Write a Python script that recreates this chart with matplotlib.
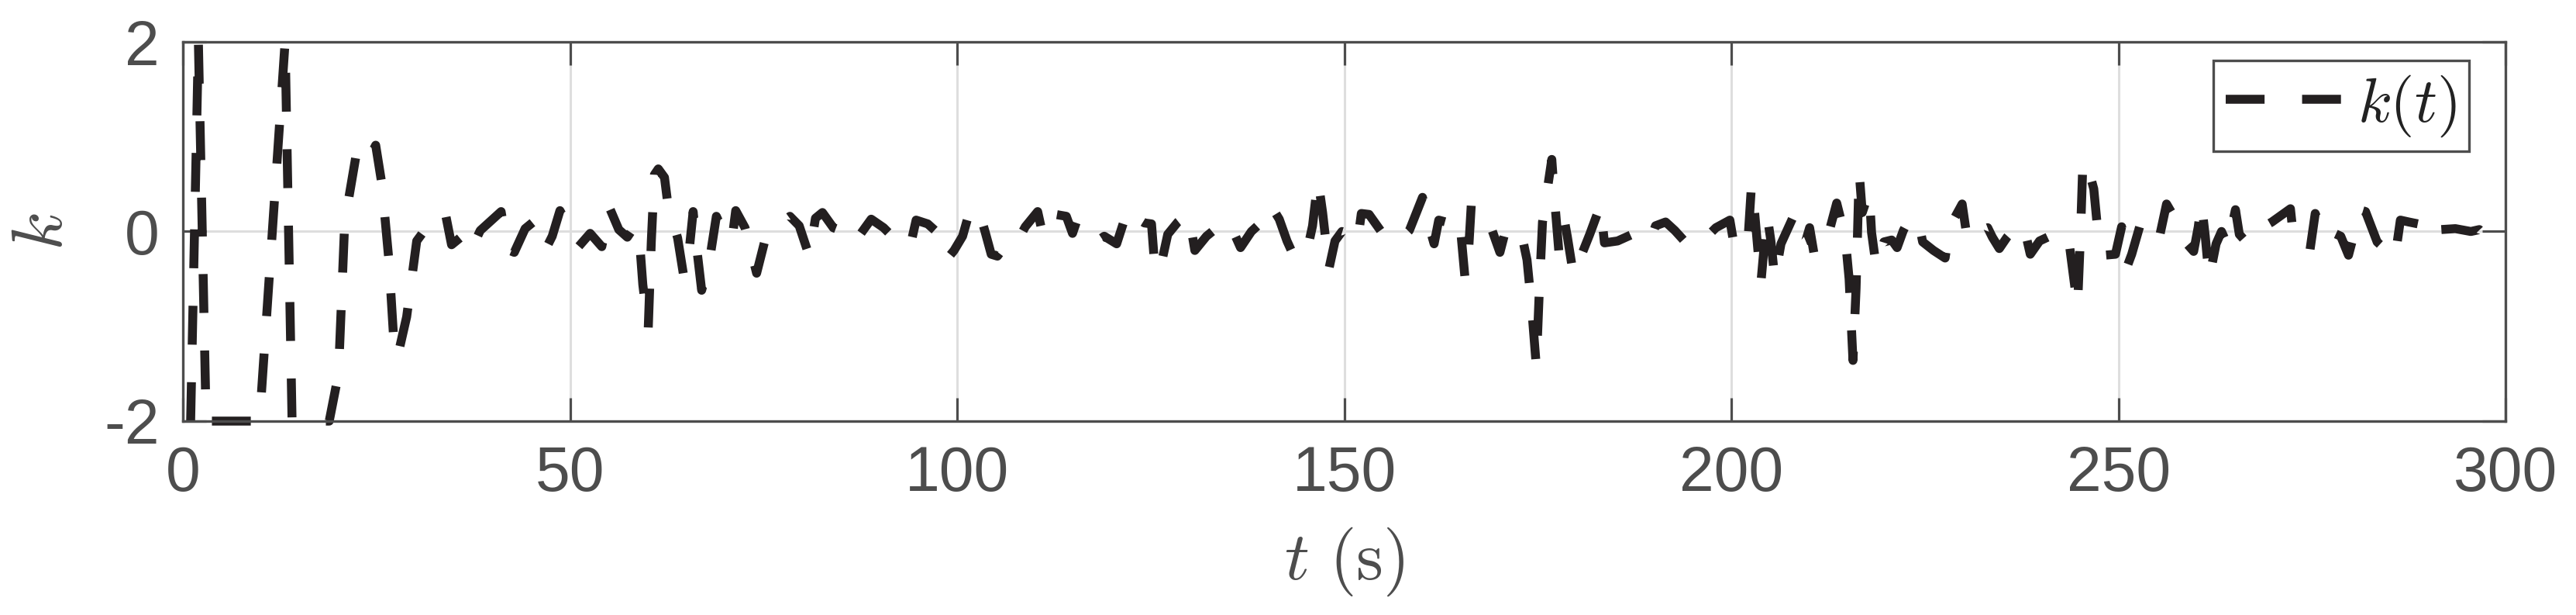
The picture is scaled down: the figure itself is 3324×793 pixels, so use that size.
import matplotlib
matplotlib.use("Agg")
import matplotlib.pyplot as plt

plt.rcParams['font.family'] = ['Liberation Sans', 'DejaVu Sans']
plt.rcParams['mathtext.fontset'] = 'cm'
plt.rcParams['axes.unicode_minus'] = False

# ---- data ----
t_vals = [1.0, 2.0, 3.0, 9.9, 13.2, 14.1, 18.9, 20.1, 20.9, 22.4, 23.6, 24.9, 25.7, 26.6, 27.2, 27.7,
          28.9, 30.2, 32.8, 33.9, 34.7, 35.9, 37.1, 38.4, 41.1, 41.9, 42.8, 44.2, 45.4, 46.9, 47.7, 48.7,
          51.1, 52.6, 54.1, 55.1, 56.3, 57.4, 58.4, 59.0, 59.4, 60.1, 60.5, 60.9, 61.4, 62.2, 62.6, 63.9,
          64.7, 65.4, 65.9, 66.4, 67.0, 68.1, 68.9, 69.9, 70.9, 71.4, 72.6, 73.4, 74.1, 75.4, 76.7, 78.4,
          79.6, 80.9, 81.7, 82.6, 84.0, 85.6, 86.6, 88.9, 90.5, 92.1, 93.9, 94.7, 96.2, 97.7, 98.7, 99.6,
          100.7, 101.6, 102.7, 103.6, 104.4, 105.2, 106.5, 107.2, 107.8, 108.8, 109.6, 110.4, 111.1, 111.9,
          112.7, 114.1, 114.9, 115.4, 116.6, 117.7, 119.0, 120.6, 122.1, 123.2, 124.2, 125.1, 125.4, 126.1,
          127.2, 128.5, 129.9, 130.7, 132.2, 133.7, 134.4, 135.4, 136.6, 138.0, 139.2, 140.4, 141.6, 142.6,
          143.6, 145.1, 145.9, 146.6, 147.2, 147.7, 148.0, 148.8, 149.7, 150.5, 151.7, 152.2, 153.2, 155.2,
          156.8, 158.4, 160.1, 160.8, 161.6, 162.2, 163.1, 164.2, 165.1, 165.6, 166.1, 166.4, 167.4, 168.4,
          169.1, 170.1, 170.7, 172.7, 173.6, 174.2, 174.8, 175.2, 175.6, 176.8, 177.2, 177.7, 178.4, 178.8,
          179.6, 181.7, 183.1, 183.6, 185.3, 187.2, 189.4, 190.2, 191.5, 192.7, 194.7, 196.4, 198.0, 199.8,
          200.4, 202.1, 202.6, 203.0, 203.8, 204.6, 205.1, 205.6, 206.4, 207.9, 208.4, 209.6, 210.1, 210.7,
          212.1, 213.6, 214.7, 215.2, 215.7, 216.1, 216.5, 216.9, 217.8, 218.1, 218.7, 219.7, 220.7, 221.4,
          222.2, 223.1, 224.1, 224.7, 226.1, 227.6, 228.2, 229.8, 230.5, 231.8, 233.1, 233.7, 234.6, 235.6,
          236.7, 237.7, 238.6, 239.8, 241.1, 242.4, 243.7, 244.7, 245.1, 245.4, 246.3, 246.8, 247.3, 248.2,
          249.6, 250.4, 251.2, 251.7, 252.9, 254.0, 255.2, 256.2, 257.7, 258.4, 259.7, 260.3, 260.7, 261.2,
          261.7, 262.6, 263.3, 264.1, 265.1, 265.6, 266.7, 268.1, 269.8, 272.2, 272.5, 273.5, 274.7, 275.4,
          276.3, 277.2, 277.9, 278.7, 279.7, 280.5, 281.1, 281.9, 283.4, 284.6, 285.7, 286.4, 287.5, 288.7,
          290.7, 291.6, 293.5, 295.5, 296.6, 297.4, 299.1, 300.0]
k_vals = [-2.0, 2.0, -2.0, -2.0, 2.0, -2.0, -2.0, -1.5, 0.1, 0.82, 0.7, 0.91, 0.5, -0.3, -1.1, -1.33,
          -0.9, -0.1, 0.19, 0.19, -0.14, -0.06, -0.22, 0.01, 0.21, -0.19, -0.22, 0.03, 0.11, -0.18, -0.05, 0.22,
          -0.16, -0.02, -0.16, 0.25, 0.02, -0.06, 0.06, -0.12, -0.56, -1.03, -0.1, 0.6, 0.66, 0.57, 0.31, -0.07,
          -0.48, -0.19, 0.21, -0.2, -0.62, -0.26, 0.16, -0.02, -0.1, 0.22, 0.04, -0.21, -0.44, -0.02, 0.06, 0.16,
          0.06, -0.26, 0.14, 0.2, 0.04, -0.01, -0.13, 0.13, 0.04, -0.09, -0.17, 0.12, 0.08, -0.03, -0.29, -0.2,
          -0.05, 0.21, 0.25, 0.0, -0.24, -0.26, -0.12, -0.15, -0.1, 0.05, 0.13, 0.21, -0.05, 0.02,
          0.18, 0.16, -0.02, 0.1, 0.03, -0.12, -0.05, -0.13, 0.25, 0.14, 0.09, 0.08, -0.24, -0.44,
          -0.03, 0.1, 0.19, -0.2, -0.05, 0.05, 0.12, 0.05, -0.17, 0.0, 0.09, 0.29, 0.13, -0.1,
          -0.28, -0.24, 0.06, 0.55, 0.2, -0.16, -0.4, -0.1, 0.0, -0.02, -0.12, 0.19, 0.18, -0.05,
          -0.12, 0.01, 0.36, 0.1, -0.13, 0.12, 0.1, 0.19, -0.05, -0.5, -0.14, 0.28, 0.21, 0.19,
          0.01, -0.22, -0.03, 0.05, -0.3, -0.8, -1.42, -0.6, 0.1, 0.76, 0.3, -0.2, 0.13, -0.05,
          -0.46, -0.03, 0.28, -0.12, -0.1, -0.03, -0.13, 0.06, 0.1, 0.01, -0.17, -0.09, 0.04, 0.12,
          -0.17, -0.14, 0.5, 0.2, -0.55, 0.18, -0.1, -0.5, -0.13, 0.14, -0.14, -0.1, 0.04, -0.25,
          -0.16, 0.3, -0.06, -0.5, -1.36, -0.6, 0.63, 0.2, 0.42, -0.01, -0.37, -0.11, -0.09, -0.17,
          0.01, 0.15, 0.13, -0.11, -0.2, -0.28, 0.05, 0.29, -0.1, 0.0, 0.04, -0.06, -0.18, -0.06,
          0.04, 0.08, -0.24, -0.1, -0.05, -0.25, -0.17, -0.8, 0.0, 0.75, 0.6, 0.45, 0.02, -0.25,
          -0.24, 0.05, -0.35, -0.24, 0.1, 0.0, -0.09, 0.29, 0.08, -0.09, -0.21, 0.05, 0.31, -0.05,
          -0.5, -0.13, 0.0, -0.15, 0.23, -0.03, -0.13, 0.02, 0.1, 0.24, 0.01, -0.08, -0.21, 0.19,
          0.0, -0.09, -0.02, -0.05, -0.25, 0.0, 0.23, 0.21, -0.11, -0.2, -0.28, 0.12, 0.1, 0.08,
          -0.1, 0.02, 0.03, 0.0, 0.02, -0.05, 0.13, 0.12]

x_ticks = [0, 50, 100, 150, 200, 250, 300]
x_tick_labels = ['0', '50', '100', '150', '200', '250', '300']
y_ticks = [-2, 0, 2]
y_tick_labels = ['-2', '0', '2']
series_label = r'$k(t)$'
x_label = r'$t\ (\mathrm{s})$'
y_label = r'$k$'

gray = '#4d4d4d'
line_col = '#231f20'

fig = plt.figure(figsize=(33.24, 7.93), dpi=100)
ax = fig.add_axes([0.0710, 0.3153, 0.9017, 0.6166])

lw = 8.3
ax.plot(t_vals, k_vals, color=line_col, linewidth=lw, linestyle=(0, (4.35, 4.2)),
        dash_capstyle='butt', dash_joinstyle='round', clip_on=False, zorder=3,
        label=series_label)

ax.set_xlim(0, 300)
ax.set_ylim(-2, 2)
ax.set_xticks(x_ticks)
ax.set_xticklabels(x_tick_labels)
ax.set_yticks(y_ticks)
ax.set_yticklabels(y_tick_labels)

ax.tick_params(direction='in', length=21.6, width=2.3, top=True, right=True,
               color=gray, labelcolor=gray, labelsize=58, pad=22)
for sp in ax.spines.values():
    sp.set_linewidth(2.4)
    sp.set_color(gray)
    sp.set_zorder(4)

ax.grid(True, color='#dedede', linewidth=2.2)
ax.set_axisbelow(True)

ax.set_xlabel(x_label, fontsize=64, color=gray, va='center')
ax.xaxis.set_label_coords(0.5, -0.37)
ax.set_ylabel(y_label, fontsize=66, color=gray, va='center')
ax.yaxis.set_label_coords(-0.060, 0.5)

leg = ax.legend(loc='upper right', bbox_to_anchor=(0.9843, 0.951), borderaxespad=0,
                fontsize=58, handlelength=1.86, handletextpad=0.25, borderpad=0.2,
                frameon=True, fancybox=False, edgecolor=gray, framealpha=1)
leg.get_frame().set_linewidth(2.4)
for txt in leg.get_texts():
    txt.set_color('#222222')

fig.savefig('out.png', dpi=100, facecolor='white')
